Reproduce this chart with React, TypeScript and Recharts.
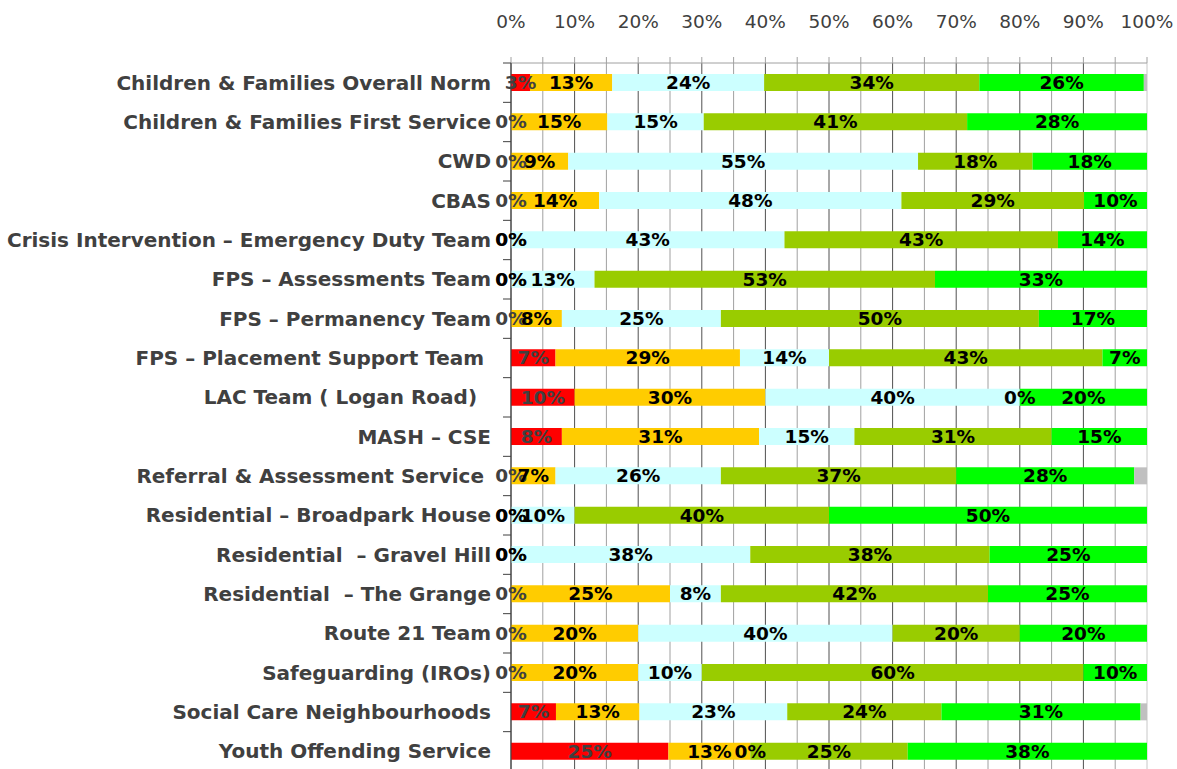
import React from "react";
import {
  BarChart,
  Bar,
  XAxis,
  YAxis,
  CartesianGrid,
  LabelList,
} from "recharts";

const teams = [
  "Children & Families Overall Norm",
  "Children & Families First Service",
  "CWD",
  "CBAS",
  "Crisis Intervention – Emergency Duty Team",
  "FPS – Assessments Team",
  "FPS – Permanency Team",
  "FPS – Placement Support Team\u00a0",
  "LAC Team ( Logan Road)\u00a0\u00a0",
  "MASH – CSE",
  "Referral & Assessment Service\u00a0",
  "Residential – Broadpark House",
  "Residential \u00a0– Gravel Hill",
  "Residential \u00a0– The Grange",
  "Route 21 Team",
  "Safeguarding (IROs)",
  "Social Care Neighbourhoods",
  "Youth Offending Service",
];

const red = [3, 0, 0, 0, 0, 0, 0, 7, 10, 8, 0, 0, 0, 0, 0, 0, 7, 25];
const orange = [13, 15, 9, 14, 0, 0, 8, 29, 30, 31, 7, 0, 0, 25, 20, 20, 13, 13];
const cyan = [24, 15, 55, 48, 43, 13, 25, 14, 40, 15, 26, 10, 38, 8, 40, 10, 23, 0];
const olive = [34, 41, 18, 29, 43, 53, 50, 43, 0, 31, 37, 40, 38, 42, 20, 60, 24, 25];
const green = [26, 28, 18, 10, 14, 33, 17, 7, 20, 15, 28, 50, 25, 25, 20, 10, 31, 38];
const grey = [0.5, 0, 0, 0, 0, 0, 0, 0, 0, 0, 2, 0, 0, 0, 0, 0, 1, 0];

const axisTicks = [
  0, 0.05, 0.1, 0.15, 0.2, 0.25, 0.3, 0.35, 0.4, 0.45, 0.5, 0.55, 0.6, 0.65,
  0.7, 0.75, 0.8, 0.85, 0.9, 0.95, 1,
];

const data = teams.map((team, i) => ({
  team,
  red: red[i],
  orange: orange[i],
  cyan: cyan[i],
  olive: olive[i],
  green: green[i],
  grey: grey[i],
}));

const W = 1177;
const H = 771;
const AXIS_W = 511;
const AXIS_H = 63;
const RIGHT = 30;
const STEP = (H - AXIS_H) / teams.length;
const FONT = "'DejaVu Sans', sans-serif";

function TeamTick(props: any) {
  const { x, y, payload } = props;
  return (
    <g>
      <line x1={x + 12} x2={x + 20} y1={y - STEP / 2} y2={y - STEP / 2} stroke="#404040" />
      <text
        x={x}
        y={y}
        textAnchor="end"
        dominantBaseline="central"
        fontFamily={FONT}
        fontWeight="bold"
        fontSize={20}
        fill="#404040"
      >
        {payload.value}
      </text>
    </g>
  );
}

function GridLine(props: any) {
  const { x1, y1, x2, y2, index } = props;
  const last = index === axisTicks.length - 1;
  const stroke = last ? "#c8c8c8" : index % 2 === 0 ? "#505050" : "#a0a0a0";
  return <line x1={x1} y1={y1} x2={x2} y2={y2} stroke={stroke} strokeWidth={1} />;
}

const pct = (v: any) => `${v}%`;
const labelStyle = { fontFamily: FONT, fontWeight: "bold" as const, fontSize: 18.5 };

export default function App() {
  return (
    <div style={{ position: "absolute", left: 0, top: 0, width: W, height: 769, overflow: "hidden", background: "#fff" }}>
      <BarChart
        width={W}
        height={H}
        data={data}
        layout="vertical"
        stackOffset="expand"
        barSize={17}
        margin={{ top: 0, right: RIGHT, bottom: 0, left: 0 }}
      >
        <CartesianGrid horizontal={false} vertical={GridLine as any} />
        <XAxis
          type="number"
          orientation="top"
          domain={[0, 1]}
          ticks={axisTicks}
          interval={0}
          height={AXIS_H}
          tickSize={6}
          tickMargin={29}
          stroke="#a0a0a0"
          tick={{ fill: "#404040", fontFamily: FONT, fontSize: 18.5 }}
          tickFormatter={(v: number) => {
            const p = Math.round(v * 100);
            return p % 10 === 0 ? `${p}%` : "";
          }}
        />
        <YAxis
          type="category"
          dataKey="team"
          width={AXIS_W}
          interval={0}
          tickSize={8}
          tickMargin={12}
          tickLine={false}
          stroke="#404040"
          tick={<TeamTick />}
        />
        <Bar dataKey="red" stackId="a" fill="#ff0000" minPointSize={0.01} isAnimationActive={false}>
          <LabelList dataKey="red" position="center" formatter={pct} fill="#404040" style={labelStyle} />
        </Bar>
        <Bar dataKey="orange" stackId="a" fill="#ffcc00" minPointSize={0.01} isAnimationActive={false}>
          <LabelList dataKey="orange" position="center" formatter={pct} fill="#000" style={labelStyle} />
        </Bar>
        <Bar dataKey="cyan" stackId="a" fill="#ccffff" minPointSize={0.01} isAnimationActive={false}>
          <LabelList dataKey="cyan" position="center" formatter={pct} fill="#000" style={labelStyle} />
        </Bar>
        <Bar dataKey="olive" stackId="a" fill="#99cc00" minPointSize={0.01} isAnimationActive={false}>
          <LabelList dataKey="olive" position="center" formatter={pct} fill="#000" style={labelStyle} />
        </Bar>
        <Bar dataKey="green" stackId="a" fill="#00ff00" minPointSize={0.01} isAnimationActive={false}>
          <LabelList dataKey="green" position="center" formatter={pct} fill="#000" style={labelStyle} />
        </Bar>
        <Bar dataKey="grey" stackId="a" fill="#c0c0c0" isAnimationActive={false} />
      </BarChart>
    </div>
  );
}
